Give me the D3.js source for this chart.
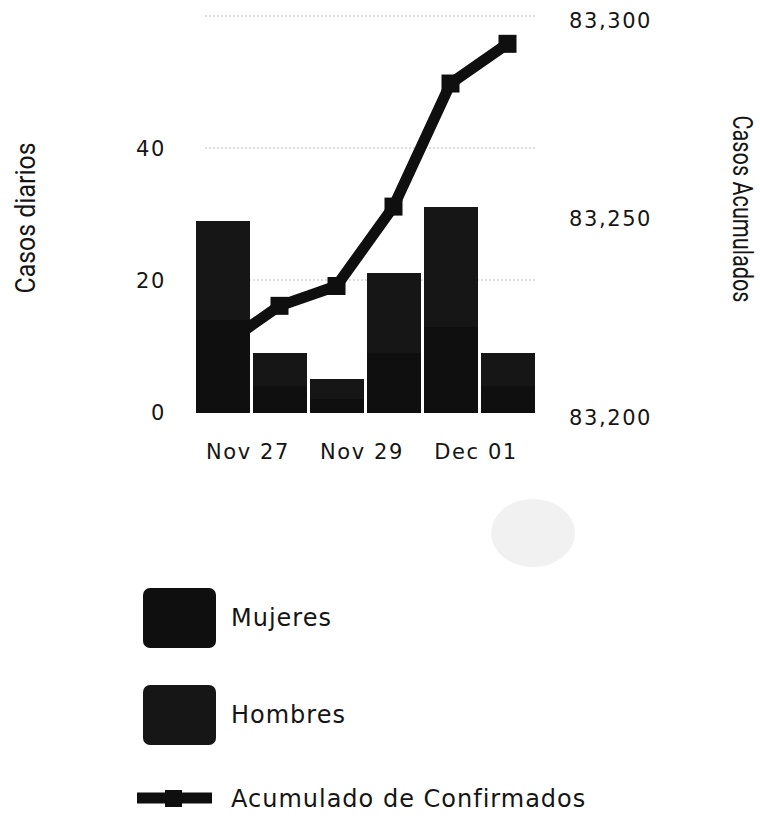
<!DOCTYPE html>
<html>
<head>
<meta charset="utf-8">
<script src="https://cdn.jsdelivr.net/npm/d3@7"></script>
<style>
  body { margin: 0; background: #fff; }
  svg { display: block; }
  .tick-label { font-family: "DejaVu Sans", sans-serif; font-size: 21px; letter-spacing: 1.6px; fill: #151515; }
  .axis-title { font-family: Roboto, sans-serif; font-size: 28px; fill: #151515; }
  .legend-label { font-family: "DejaVu Sans", sans-serif; font-size: 24px; letter-spacing: 1px; fill: #151515; }
</style>
</head>
<body>
<div id="chart"></div>
<script>
// daily cases (stacked), one bar per day
var dates = ["2020-11-26", "2020-11-27", "2020-11-28", "2020-11-29", "2020-11-30", "2020-12-01"];
var mujeres = [14, 4, 2, 9, 13, 4];
var hombres = [15, 5, 3, 12, 18, 5];
// cumulative confirmed (right axis)
var acumulado = [83218, 83228, 83233, 83253, 83284, 83294];

var leftTicks = [0, 20, 40];
var leftGrid = [20, 40, 60];
var rightTicks = [83200, 83250, 83300];
var xTicks = ["2020-11-27", "2020-11-29", "2020-12-01"];

var seriesNames = ["Mujeres", "Hombres"];
var seriesColors = ["#0f0f0f", "#161616"];

var width = 760, height = 826;
var parse = d3.timeParse("%Y-%m-%d");
var fmtDate = d3.timeFormat("%b %d");
var fmtNum = d3.format(",");

var svg = d3.select("#chart").append("svg")
	.attr("width", width)
	.attr("height", height);

svg.append("rect").attr("width", width).attr("height", height).attr("fill", "#fff");

var days = dates.map(parse);
var x = d3.scaleTime()
	.domain([days[0], d3.timeDay.offset(days[days.length - 1], 1)])
	.range([194, 536]);
var yLeft = d3.scaleLinear().domain([0, 60]).range([412, 16]);
var yRight = d3.scaleLinear().domain([83200, 83300]).range([417, 20]);

// grid
svg.append("g").selectAll("line")
	.data(leftGrid)
	.enter().append("line")
	.attr("x1", 205).attr("x2", 537)
	.attr("y1", function(d) { return yLeft(d); })
	.attr("y2", function(d) { return yLeft(d); })
	.attr("stroke", "#bdbdbd")
	.attr("stroke-width", 1)
	.attr("stroke-dasharray", "2,2");

// faint blob under the plot
svg.append("ellipse")
	.attr("cx", 533).attr("cy", 533).attr("rx", 42).attr("ry", 34)
	.attr("fill", "#f1f1f1");

// cumulative line (drawn under the bars)
var mid = function(d) { return x(d3.timeHour.offset(d, 12)); };
var line = d3.line()
	.x(function(d, i) { return mid(days[i]); })
	.y(function(d) { return yRight(d); });

svg.append("path")
	.datum(acumulado)
	.attr("d", line)
	.attr("fill", "none")
	.attr("stroke", "#0f0f0f")
	.attr("stroke-width", 11)
	.attr("stroke-linejoin", "round");

svg.append("g").selectAll("rect")
	.data(acumulado)
	.enter().append("rect")
	.attr("x", function(d, i) { return mid(days[i]) - 9; })
	.attr("y", function(d) { return yRight(d) - 9; })
	.attr("width", 18).attr("height", 18)
	.attr("fill", "#0f0f0f");

// stacked bars
var rows = dates.map(function(d, i) { return {date: days[i], Mujeres: mujeres[i], Hombres: hombres[i]}; });
var stack = d3.stack().keys(seriesNames)(rows);

svg.append("g").selectAll("g")
	.data(stack)
	.enter().append("g")
	.attr("fill", function(d, i) { return seriesColors[i]; })
	.attr("shape-rendering", "crispEdges")
	.selectAll("rect")
	.data(function(d) { return d; })
	.enter().append("rect")
	.attr("x", function(d) { return x(d.data.date) + 1.5; })
	.attr("width", function(d) { return x(d3.timeDay.offset(d.data.date, 1)) - x(d.data.date) - 3; })
	.attr("y", function(d) { return yLeft(d[1]); })
	.attr("height", function(d) { return yLeft(d[0]) - yLeft(d[1]) + 0.5; });

// axes labels
svg.append("g").selectAll("text")
	.data(leftTicks)
	.enter().append("text")
	.attr("class", "tick-label")
	.attr("x", 166)
	.attr("y", function(d) { return yLeft(d); })
	.attr("dy", "0.36em")
	.attr("text-anchor", "end")
	.text(function(d) { return d; });

svg.append("g").selectAll("text")
	.data(rightTicks)
	.enter().append("text")
	.attr("class", "tick-label")
	.attr("x", 569)
	.attr("y", function(d) { return yRight(d); })
	.attr("dy", "0.36em")
	.text(function(d) { return fmtNum(d); });

svg.append("g").selectAll("text")
	.data(xTicks.map(parse))
	.enter().append("text")
	.attr("class", "tick-label")
	.attr("x", function(d) { return x(d) - 3; })
	.attr("y", 459)
	.attr("text-anchor", "middle")
	.text(function(d) { return fmtDate(d); });

svg.append("text")
	.attr("class", "axis-title")
	.attr("transform", "translate(35,218) rotate(-90)")
	.attr("text-anchor", "middle")
	.attr("textLength", 151)
	.attr("lengthAdjust", "spacingAndGlyphs")
	.text("Casos diarios");

svg.append("text")
	.attr("class", "axis-title")
	.attr("transform", "translate(733,209) rotate(90)")
	.attr("text-anchor", "middle")
	.attr("textLength", 187)
	.attr("lengthAdjust", "spacingAndGlyphs")
	.text("Casos Acumulados");

// legend
var legendY = [617, 714];
var legend = svg.append("g");
seriesNames.forEach(function(name, i) {
	legend.append("rect")
		.attr("x", 143).attr("y", legendY[i] - 29)
		.attr("width", 73).attr("height", 60)
		.attr("rx", 7)
		.attr("fill", seriesColors[i]);
	legend.append("text")
		.attr("class", "legend-label")
		.attr("x", 231).attr("y", legendY[i])
		.attr("dy", "0.36em")
		.text(name);
});
legend.append("line")
	.attr("x1", 137).attr("x2", 212)
	.attr("y1", 798).attr("y2", 798)
	.attr("stroke", "#0f0f0f").attr("stroke-width", 11);
legend.append("rect")
	.attr("x", 165).attr("y", 790).attr("width", 17).attr("height", 17)
	.attr("fill", "#0f0f0f");
legend.append("text")
	.attr("class", "legend-label")
	.attr("x", 231).attr("y", 798)
	.attr("dy", "0.36em")
	.text("Acumulado de Confirmados");
</script>
</body>
</html>
